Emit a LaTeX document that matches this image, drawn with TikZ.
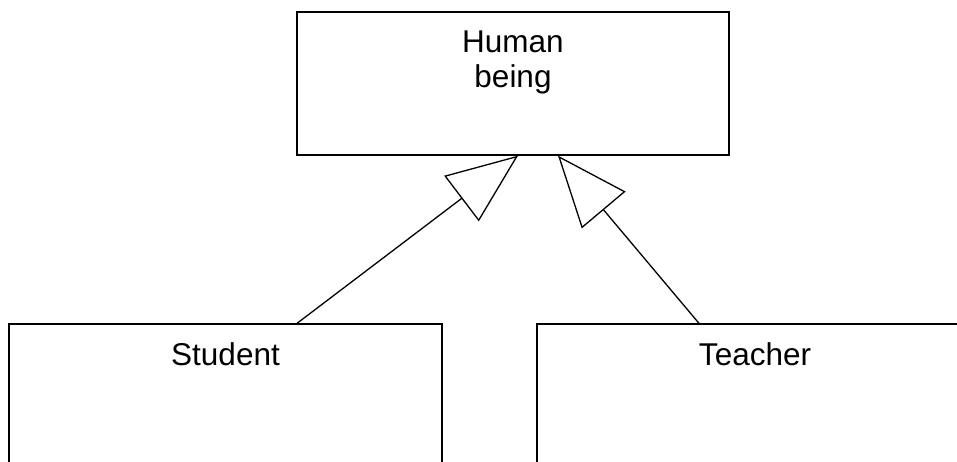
\documentclass[tikz,border=0pt]{standalone}
\usepackage{fontspec}
\setmainfont{Liberation Sans}
\usetikzlibrary{arrows.meta,calc}
\begin{document}
\begin{tikzpicture}[x=1pt,y=-1pt,
  box/.style={draw, line width=1.3pt, inner sep=0pt},
  lbl/.style={inner sep=0pt, font=\fontsize{31.5}{35}\selectfont, align=center},
  inherit/.style={line width=1.3pt, -{Triangle[open, length=71pt, width=57pt, line width=1.3pt]}}]
\useasboundingbox (0,0) rectangle (957,461);
\clip (0,0) rectangle (957,461);
\node[box, minimum width=432pt, minimum height=143pt] (human) at (513,83.5) {};
\node[lbl, anchor=north] (humantxt) at (513,30.5) {Human\\being};
\node[box, minimum width=433pt, minimum height=156pt] (student) at (225.5,402) {};
\node[lbl, anchor=base] (studenttxt) at (225.5,365) {Student};
\node[box, minimum width=436pt, minimum height=156pt] (teacher) at (755,402) {};
\node[lbl, anchor=base] (teachertxt) at (755,365) {Teacher};
\draw[inherit] ($(student.north)+(71.5,0)$) -- ($(human.south)+(5,0)$);
\draw[inherit] ($(teacher.north)+(-56,0)$) -- ($(human.south)+(45,0)$);
\end{tikzpicture}
\end{document}
